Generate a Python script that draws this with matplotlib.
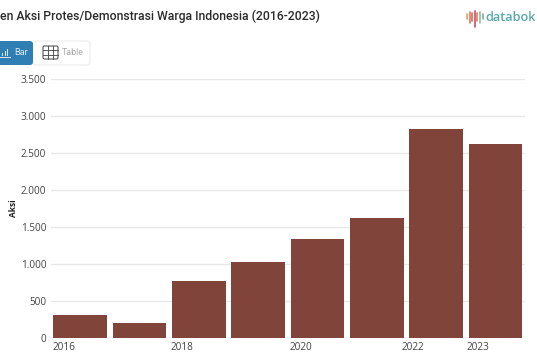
import matplotlib
matplotlib.use("Agg")
import matplotlib.pyplot as plt
from matplotlib.patches import FancyBboxPatch, Rectangle

years = [2016, 2017, 2018, 2019, 2020, 2021, 2022, 2023]
aksi = [310, 200, 770, 1025, 1340, 1620, 2825, 2620]
y_ticks = [0, 500, 1000, 1500, 2000, 2500, 3000, 3500]
y_labels = ["0", "500", "1.000", "1.500", "2.000", "2.500", "3.000", "3.500"]
x_tick_pos = [-0.47, 1.52, 3.53, 5.42, 6.51]
x_tick_labels = ["2016", "2018", "2020", "2022", "2023"]
title = "en Aksi Protes/Demonstrasi Warga Indonesia (2016-2023)"
logo_tops = [14, 12, 13, 11, 13, 12, 14]
logo_bottoms = [19, 23, 21, 27, 21, 23, 19]
logo_colors = ["#e8a15c", "#e07b5a", "#d9645f", "#c9505c", "#d9826a", "#9db79a", "#6fb0a8"]

W, H = 537, 360
fig = plt.figure(figsize=(W / 100, H / 100), dpi=100, facecolor="white")

# axes placed by pixel, y=0 at 338 and 3500 at 79
ax = fig.add_axes([50.5 / W, 1 - 338 / H, 474.5 / W, 259 / H])
ax.bar(range(len(years)), aksi, width=0.905, color="#80443a", zorder=3)
ax.set_xlim(-0.5, 7.5)
ax.set_ylim(0, 3500)
ax.set_yticks(y_ticks)
ax.set_yticklabels(y_labels, fontfamily="Open Sans", fontsize=7.2, color="#444444")
ax.set_xticks(x_tick_pos)
ax.set_xticklabels(x_tick_labels, fontfamily="Open Sans", fontsize=7.2, color="#444444", ha="left")
ax.tick_params(axis="both", length=0, pad=3)
ax.grid(axis="y", color="#e8e8e8", linewidth=1, zorder=0)
ax.set_axisbelow(True)
for s in ax.spines.values():
    s.set_visible(False)
fig.text(13 / W, 1 - 208 / H, "Aksi", rotation=90, fontfamily="Open Sans", fontsize=6,
         fontweight="bold", color="#222222", ha="center", va="center")

fig.text(0 / W, 1 - 16.5 / H, title, fontfamily="Roboto", fontsize=8.85, fontweight="medium",
         color="#2b2b2b", ha="left", va="center")

# overlay in pixel coords for the buttons and the logo
ov = fig.add_axes([0, 0, 1, 1])
ov.set_xlim(0, W)
ov.set_ylim(H, 0)
ov.axis("off")
ov.patch.set_alpha(0)

ov.add_patch(FancyBboxPatch((32, 41), 58, 24, boxstyle="round,pad=0,rounding_size=3",
                            fc="white", ec="#ececec", lw=0.8))
ov.add_patch(FancyBboxPatch((-6, 41), 39, 24, boxstyle="round,pad=0,rounding_size=3",
                            fc="#2f7fb5", ec="none"))
ov.text(14, 52.5, "Bar", fontfamily="Roboto", fontsize=6.6, color="#d9e9f4", va="center")
for x, h in zip([2, 4.5, 7], [3, 5, 7]):
    ov.add_patch(Rectangle((x, 56 - h), 1.3, h, fc="#d9e9f4", ec="none"))
ov.plot([0, 10], [57, 57], color="#d9e9f4", lw=0.7)

# table icon
ov.add_patch(FancyBboxPatch((43, 46), 15, 13, boxstyle="round,pad=0,rounding_size=1.5",
                            fc="white", ec="#555555", lw=0.8))
for x in [48, 53]:
    ov.plot([x, x], [46, 59], color="#555555", lw=0.7)
for y in [50.3, 54.6]:
    ov.plot([43, 58], [y, y], color="#555555", lw=0.7)
ov.text(62, 52.5, "Table", fontfamily="Roboto", fontsize=6.4, color="#aaaaaa", va="center")

# logo
for i, (t, b, c) in enumerate(zip(logo_tops, logo_bottoms, logo_colors)):
    ov.plot([467 + i * 2.6] * 2, [t, b], color=c, lw=1.2, solid_capstyle="round")
ov.text(485, 17.5, "databok", fontfamily="Open Sans", fontsize=9.2, fontweight="semibold",
        color="#5ba8a8", va="center", ha="left")

fig.savefig("out.png", dpi=100)
